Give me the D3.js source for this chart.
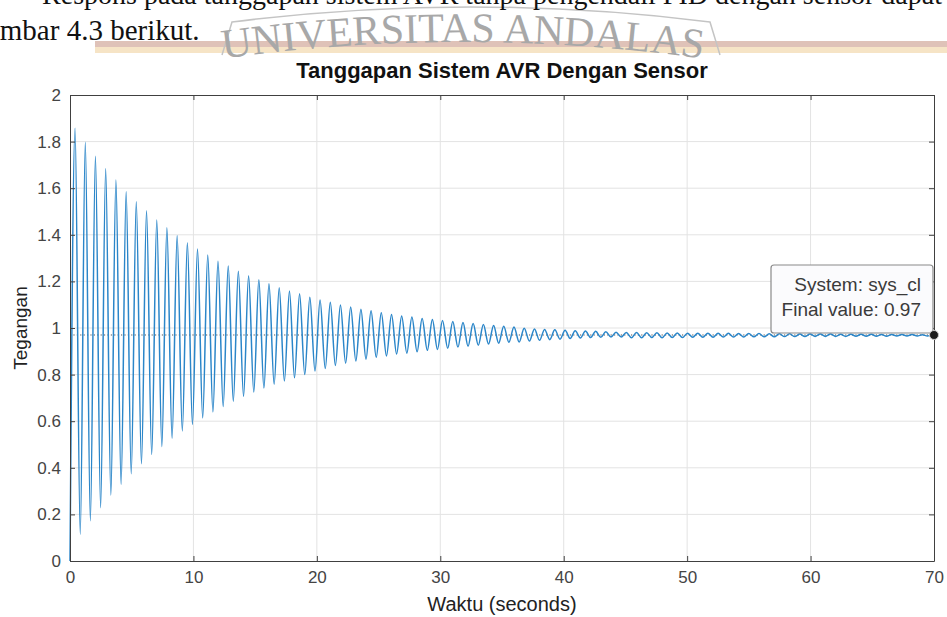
<!DOCTYPE html>
<html><head><meta charset="utf-8">
<script src="https://cdn.jsdelivr.net/npm/d3@7/dist/d3.min.js"></script>
<style>body{margin:0;background:#fff}svg{display:block}</style>
</head><body>
<svg id="chart" width="947" height="617"></svg>
<script>
// ---- data ----
const titleText = "Tanggapan Sistem AVR Dengan Sensor";
const xLabel = "Waktu (seconds)";
const yLabel = "Tegangan";
const xTicks = [0,10,20,30,40,50,60,70];
const yTicks = [0,0.2,0.4,0.6,0.8,1,1.2,1.4,1.6,1.8,2];
const finalValue = 0.97;
const tipLines = ["System: sys_cl", "Final value: 0.97"];
const startPoint = [0, 0];
const endTime = 70;

const peakT = [0.41,1.24,2.06,2.89,3.72,4.55,5.37,6.20,7.03,7.85,8.68,9.51,10.33,11.16,11.99,12.82,13.64,14.47,15.30,16.12,16.95,17.78,18.60,19.43,20.26,21.09,21.91,22.74,23.57,24.39,25.22,26.05,26.87,27.70,28.53,29.36,30.18,31.01,31.84,32.66,33.49,34.32,35.14,35.97,36.80,37.63,38.45,39.28,40.11,40.93,41.76,42.59,43.41,44.24,45.07,45.90,46.72,47.55,48.38,49.20,50.03,50.86,51.68,52.51,53.34,54.17,54.99,55.82,56.65,57.47,58.30,59.13,59.95,60.78,61.61,62.44,63.26,64.09,64.92,65.74,66.57,67.40,68.22,69.05,69.88];
const peakV = [1.857,1.797,1.737,1.683,1.635,1.585,1.542,1.503,1.463,1.430,1.396,1.366,1.339,1.313,1.287,1.266,1.244,1.224,1.207,1.190,1.173,1.159,1.147,1.132,1.120,1.110,1.099,1.090,1.081,1.074,1.065,1.058,1.052,1.047,1.041,1.037,1.032,1.028,1.024,1.019,1.015,1.011,1.007,1.004,0.999,0.996,0.994,0.992,0.990,0.988,0.987,0.986,0.984,0.982,0.981,0.981,0.980,0.980,0.979,0.979,0.978,0.978,0.977,0.977,0.977,0.976,0.976,0.976,0.975,0.975,0.975,0.974,0.974,0.974,0.974,0.973,0.973,0.973,0.973,0.972,0.972,0.972,0.972,0.971,0.971];
const troughT = [0.83,1.65,2.48,3.31,4.14,4.96,5.79,6.62,7.44,8.27,9.10,9.92,10.75,11.58,12.41,13.23,14.06,14.89,15.71,16.54,17.37,18.19,19.02,19.85,20.68,21.50,22.33,23.16,23.98,24.81,25.64,26.46,27.29,28.12,28.95,29.77,30.60,31.43,32.25,33.08,33.91,34.73,35.56,36.39,37.22,38.04,38.87,39.70,40.52,41.35,42.18,43.00,43.83,44.66,45.49,46.31,47.14,47.97,48.79,49.62,50.45,51.27,52.10,52.93,53.76,54.58,55.41,56.24,57.06,57.89,58.72,59.54,60.37,61.20,62.03,62.85,63.68,64.51,65.33,66.16,66.99,67.81,68.64,69.47];
const troughV = [0.115,0.173,0.229,0.283,0.329,0.375,0.417,0.457,0.491,0.527,0.558,0.586,0.614,0.640,0.663,0.686,0.706,0.725,0.742,0.759,0.772,0.786,0.800,0.815,0.826,0.839,0.849,0.858,0.866,0.874,0.880,0.888,0.892,0.898,0.904,0.908,0.913,0.918,0.922,0.926,0.931,0.935,0.939,0.940,0.944,0.947,0.950,0.952,0.955,0.957,0.959,0.960,0.961,0.961,0.958,0.958,0.959,0.958,0.959,0.959,0.960,0.960,0.960,0.961,0.961,0.961,0.962,0.962,0.962,0.963,0.963,0.963,0.964,0.964,0.964,0.964,0.965,0.965,0.965,0.965,0.966,0.966,0.966,0.966];

// ---- drawing ----
const W = 947, H = 617;
const M = {left: 70, right: 13, top: 95, bottom: 56};
const svg = d3.select("#chart");
const font = "'Liberation Sans', Arial, Helvetica, sans-serif";

// page decoration (document watermark & text above figure)
const deco = svg.append("g");
deco.append("rect").attr("x", 95).attr("y", 41).attr("width", 852).attr("height", 6).attr("fill", "#dfc2b8");
deco.append("rect").attr("x", 95).attr("y", 47).attr("width", 852).attr("height", 6).attr("fill", "#f6e4c6");
deco.append("path").attr("d", "M222,55 L232,22 Q470,-8 710,22 L720,55")
  .attr("fill", "none").attr("stroke", "#c4c4c4").attr("stroke-width", 1.5);
deco.append("path").attr("id", "arc").attr("d", "M214,60 Q460,24 712,60").attr("fill", "none");
deco.append("text").attr("font-family", "'Liberation Serif', 'DejaVu Serif', serif")
  .attr("font-size", 42).attr("fill", "#a8a8a8")
  .append("textPath").attr("href", "#arc").attr("startOffset", "50%").attr("text-anchor", "middle")
  .text("UNIVERSITAS ANDALAS");
deco.append("text").attr("x", 942).attr("y", 4).attr("text-anchor", "end")
  .attr("font-family", "'Liberation Serif', serif").attr("font-size", 28).attr("fill", "#111")
  .text("Respons pada tanggapan sistem AVR tanpa pengendali PID dengan sensor dapat");
deco.append("text").attr("x", -34).attr("y", 40)
  .attr("font-family", "'Liberation Serif', serif").attr("font-size", 29).attr("fill", "#111")
  .text("Gambar 4.3 berikut.");

const x = d3.scaleLinear().domain([0, 70]).range([M.left, W - M.right]);
const y = d3.scaleLinear().domain([0, 2]).range([H - M.bottom, M.top]);

const plot = svg.append("g");
plot.append("rect").attr("x", M.left).attr("y", M.top)
  .attr("width", W - M.right - M.left).attr("height", H - M.bottom - M.top).attr("fill", "#fff");

// grid
plot.append("g").selectAll("line").data(xTicks.slice(1, -1)).join("line")
  .attr("x1", d => x(d)).attr("x2", d => x(d)).attr("y1", M.top).attr("y2", H - M.bottom)
  .attr("stroke", "#e3e3e3").attr("stroke-width", 1);
plot.append("g").selectAll("line").data(yTicks.slice(1, -1)).join("line")
  .attr("y1", d => y(d)).attr("y2", d => y(d)).attr("x1", M.left).attr("x2", W - M.right)
  .attr("stroke", "#e3e3e3").attr("stroke-width", 1);

// final value dotted line
plot.append("line").attr("x1", M.left).attr("x2", W - M.right)
  .attr("y1", y(finalValue)).attr("y2", y(finalValue))
  .attr("stroke", "#555").attr("stroke-width", 1).attr("stroke-dasharray", "1.2,2.2");

// response line
const pts = [startPoint];
peakT.forEach((t, i) => pts.push([t, peakV[i]]));
troughT.forEach((t, i) => pts.push([t, troughV[i]]));
pts.push([endTime, finalValue]);
pts.sort((a, b) => a[0] - b[0]);
const line = d3.line().x(d => x(d[0])).y(d => y(d[1])).curve(d3.curveMonotoneX);
plot.append("path").datum(pts).attr("d", line)
  .attr("fill", "none").attr("stroke", "#2b86c9").attr("stroke-width", 1.5);

// axes
const axCol = "#404040";
const xAxis = d3.axisBottom(x).tickValues(xTicks).tickFormat(d3.format("d")).tickSizeInner(-5).tickSizeOuter(0).tickPadding(10);
const yAxis = d3.axisLeft(y).tickValues(yTicks).tickFormat(d => String(d)).tickSizeInner(-5).tickSizeOuter(0).tickPadding(9);
const gx = svg.append("g").attr("transform", `translate(0,${H - M.bottom})`).call(xAxis);
const gy = svg.append("g").attr("transform", `translate(${M.left},0)`).call(yAxis);
const gxt = svg.append("g").attr("transform", `translate(0,${M.top})`)
  .call(d3.axisTop(x).tickValues(xTicks).tickFormat("").tickSizeInner(-5).tickSizeOuter(0));
const gyr = svg.append("g").attr("transform", `translate(${W - M.right},0)`)
  .call(d3.axisRight(y).tickValues(yTicks).tickFormat("").tickSizeInner(-5).tickSizeOuter(0));
[gx, gy, gxt, gyr].forEach(g => {
  g.select(".domain").attr("stroke", axCol);
  g.selectAll(".tick line").attr("stroke", axCol);
  g.selectAll("text").attr("fill", "#444").attr("font-family", font).attr("font-size", 17);
});

// labels
svg.append("text").attr("x", (M.left + W - M.right) / 2).attr("y", 78).attr("text-anchor", "middle")
  .attr("font-family", font).attr("font-weight", "bold").attr("font-size", 22).attr("fill", "#111").text(titleText);
svg.append("text").attr("x", (M.left + W - M.right) / 2).attr("y", 611).attr("text-anchor", "middle")
  .attr("font-family", font).attr("font-size", 20).attr("fill", "#222").text(xLabel);
svg.append("text").attr("transform", `translate(27,${(M.top + H - M.bottom) / 2}) rotate(-90)`)
  .attr("text-anchor", "middle").attr("font-family", font).attr("font-size", 19).attr("fill", "#222").text(yLabel);

// data tip
const tip = svg.append("g");
tip.append("rect").attr("x", x(endTime) - 163).attr("y", y(finalValue) - 70).attr("width", 162).attr("height", 68)
  .attr("rx", 3).attr("fill", "#fbfbfd").attr("stroke", "#8a8a8a").attr("stroke-width", 1.2);
tip.selectAll("text").data(tipLines).join("text")
  .attr("x", x(endTime) - 13).attr("y", (d, i) => y(finalValue) - 44 + i * 25)
  .attr("text-anchor", "end").attr("font-family", font).attr("font-size", 19).attr("fill", "#3a3a3a").text(d => d);
svg.append("circle").attr("cx", x(endTime)).attr("cy", y(finalValue)).attr("r", 4.5)
  .attr("fill", "#1a1a1a").attr("stroke", "#c8c8c8").attr("stroke-width", 1);
</script>
</body></html>
